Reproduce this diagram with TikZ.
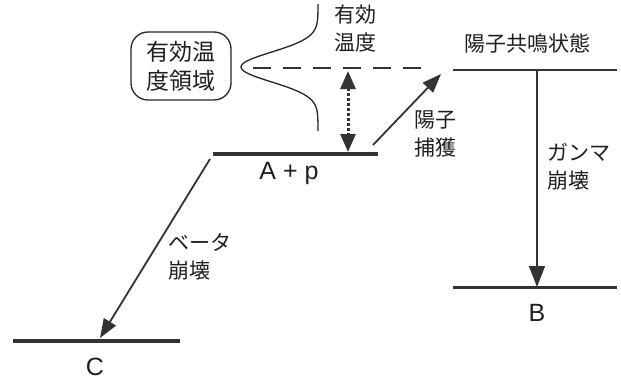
\documentclass[tikz,border=0pt]{standalone}
\usepackage{fontspec}
\setmainfont{Noto Sans CJK JP}
\newfontfamily\latinfont{Liberation Sans}
\usetikzlibrary{arrows.meta}
\begin{document}
\begin{tikzpicture}[x=1pt,y=-1pt,
  level/.style={line width=3.5pt,draw=black!80},
  thinlevel/.style={line width=1.8pt,draw=black!80},
  txt/.style={font=\fontsize{21}{28}\selectfont,inner sep=0pt,align=left,text=black!88},
  ltxt/.style={font=\latinfont\fontsize{25}{28}\selectfont,inner sep=0pt,text=black!88},
  arr/.style={line width=1.8pt,draw=black!80,-{Triangle[length=19pt,width=14pt]}},
  garr/.style={line width=1.3pt,draw=black!80,-{Triangle[length=21pt,width=16pt]}}]
\useasboundingbox (0,0) rectangle (621,380);
% levels
\coordinate (apL) at (213,154); \coordinate (apR) at (378,154);
\coordinate (cL) at (13,341); \coordinate (cR) at (180,341);
\coordinate (rL) at (453,70); \coordinate (rR) at (617,70);
\coordinate (bL) at (453,287); \coordinate (bR) at (617,287);
\draw[level] (apL) -- (apR);
\draw[level] (cL) -- (cR);
\draw[thinlevel] (rL) -- (rR);
\draw[level,line width=3pt] (bL) -- (bR);
\node[ltxt] (aplab) at (289,173) {A + p};
\node[ltxt] (clab) at (95,367) {C};
\node[ltxt] (blab) at (537,313) {B};
\node[txt] (rlab) at (527,43) {陽子共鳴状態};
% gamma decay
\coordinate (g1) at (537,70); \coordinate (g2) at (537,287);
\draw[garr] (g1) -- (g2);
\node[txt,anchor=west] (glab) at (547,167) {ガンマ\\崩壊};
% beta decay
\coordinate (b1) at (210,159); \coordinate (b2) at (100,338);
\draw[arr] (b1) -- (b2);
\node[txt,anchor=west] (blab2) at (168,257) {ベータ\\崩壊};
% proton capture
\coordinate (p1) at (373,145); \coordinate (p2) at (441,74);
\draw[arr] (p1) -- (p2);
\node[txt,anchor=west] (plab) at (414,134) {陽子\\捕獲};
% effective temperature
\coordinate (d1) at (253,68); \coordinate (d2) at (426,68);
\draw[line width=1.5pt,draw=black!80,dash pattern=on 18pt off 12pt] (d1) -- (d2);
\coordinate (e1) at (348,71); \coordinate (e2) at (348,152);
\draw[line width=3pt,draw=black!80,dash pattern=on 3pt off 2pt,
  {Triangle[length=18pt,width=15pt]}-{Triangle[length=18pt,width=15pt]}] (e1) -- (e2);
\draw[line width=1.3pt,draw=black!85,smooth,samples=80,domain=4:131]
  plot ({318-77*exp(-((\x-67)/21)^2)},\x);
\node[txt] (etlab) at (355,29) {有効\\温度};
\node[txt,font=\fontsize{23}{29}\selectfont,draw=black!85,line width=1.3pt,rounded corners=17pt,minimum width=100pt,minimum height=68pt] (region) at (181,66) {有効温\\度領域};
\end{tikzpicture}
\end{document}
